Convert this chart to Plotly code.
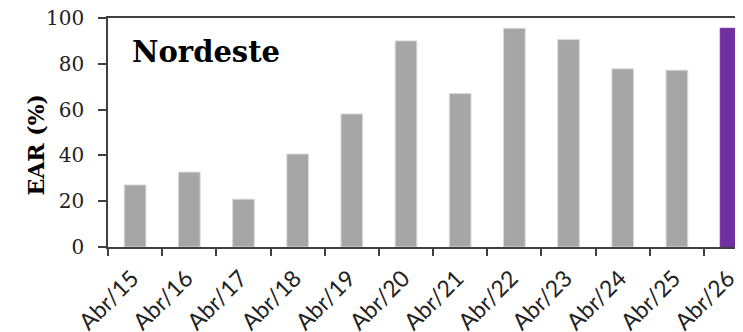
import plotly.graph_objects as go

categories = ["Abr/15", "Abr/16", "Abr/17", "Abr/18", "Abr/19", "Abr/20",
              "Abr/21", "Abr/22", "Abr/23", "Abr/24", "Abr/25", "Abr/26"]
ear_values = [27.1, 32.7, 20.9, 40.6, 58.1, 90.0, 67.0, 95.5, 90.6, 77.8, 77.2, 95.5]
bar_colors = ["#A6A6A6"] * 11 + ["#7030A0"]
line_colors = ["#D9D9D9"] * 11 + ["#7030A0"]
y_ticks = [0, 20, 40, 60, 80, 100]

fig = go.Figure()
fig.add_trace(go.Bar(
    x=categories, y=ear_values, width=0.4,
    marker=dict(color=bar_colors, line=dict(color=line_colors, width=1)),
))

axis_color = "#404040"
fig.update_layout(
    width=735, height=324,
    margin=dict(l=100, r=0, t=10, b=85),
    paper_bgcolor="white", plot_bgcolor="white",
    showlegend=False,
    xaxis=dict(
        type="category", range=[-0.5, 11.22], automargin=False,
        showline=True, linecolor=axis_color, linewidth=1.5, mirror=True,
        ticks="outside", ticklen=7, tickcolor=axis_color, tickwidth=1.5,
        tickson="boundaries", tickangle=-45,
        ticklabelstandoff=7, ticklabelshift=-3,
        tickfont=dict(family="Lato", size=23, color="#222222"),
        ticklabeloverflow="allow",
        showgrid=False, zeroline=False,
    ),
    yaxis=dict(
        range=[0, 100], tickvals=y_ticks, automargin=False,
        showline=True, linecolor=axis_color, linewidth=1.5,
        ticks="outside", ticklen=8, tickcolor=axis_color, tickwidth=1.5,
        ticklabelstandoff=10,
        ticklabeloverflow="allow",
        tickfont=dict(family="DejaVu Serif", size=20, color="#222222"),
        showgrid=False, zeroline=False,
    ),
    annotations=[
        dict(text="<b>Nordeste</b>", xref="paper", yref="paper",
             x=0.035, y=0.853, xanchor="left", yanchor="middle", showarrow=False,
             font=dict(family="DejaVu Serif", size=29, color="black")),
        dict(text="<b>EAR (%)</b>", xref="paper", yref="paper",
             x=-0.114, y=0.446, xanchor="center", yanchor="middle", showarrow=False,
             textangle=-90,
             font=dict(family="DejaVu Serif", size=22, color="black")),
    ],
)

fig.write_html("out.html")
